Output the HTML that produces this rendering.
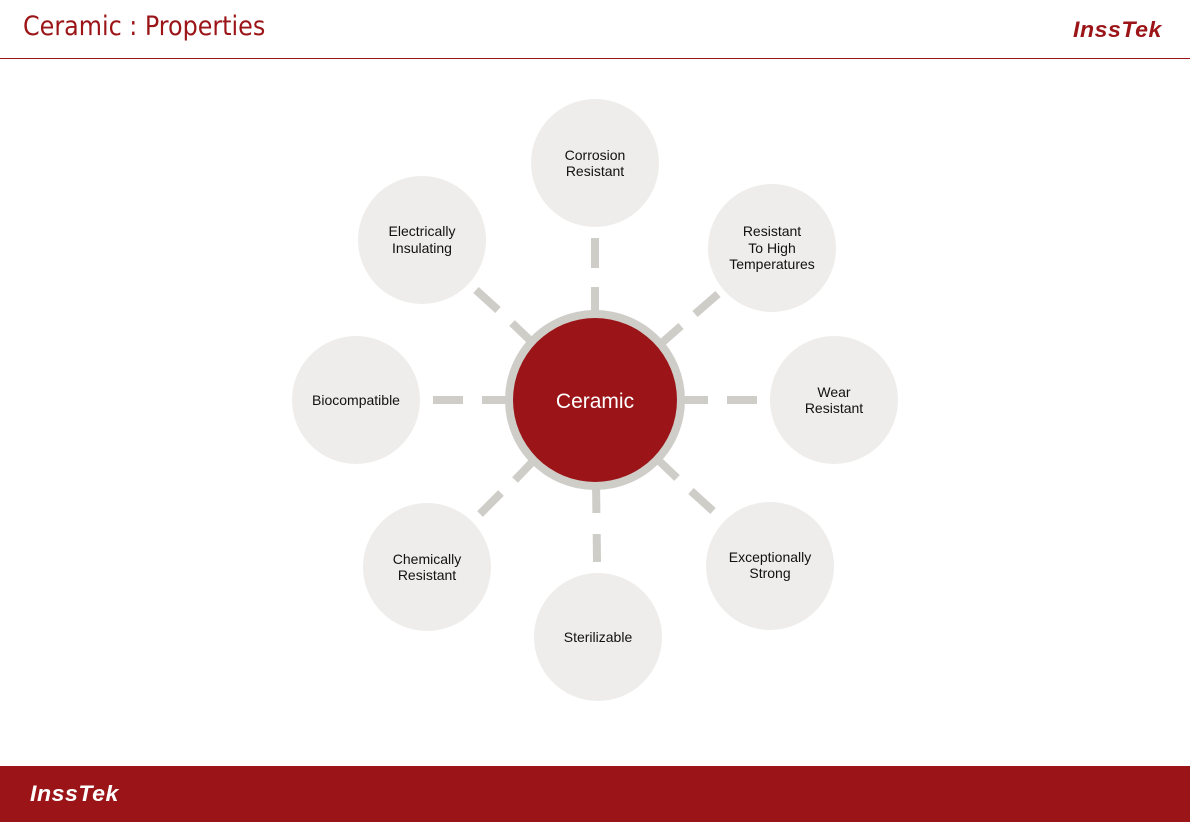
<!DOCTYPE html>
<html><head><meta charset="utf-8"><style>
html,body{margin:0;padding:0;background:#fff;}
body{width:1190px;height:822px;position:relative;overflow:hidden;font-family:"Liberation Sans","DejaVu Sans",sans-serif;}
.title{position:absolute;left:23px;top:11px;font-size:26.5px;color:#9b1518;font-family:"DejaVu Sans Condensed","DejaVu Sans",sans-serif;}
.logo{position:absolute;font-weight:bold;font-style:italic;font-size:22px;letter-spacing:0.5px;font-family:"Liberation Sans",sans-serif;transform:scaleX(1.05);transform-origin:left;}
.hr{position:absolute;left:0;top:58px;width:1190px;height:1px;background:#9b1518;}
.foot{position:absolute;left:0;top:766px;width:1190px;height:56px;background:#9b1518;}
</style></head><body>
<div class="title">Ceramic : Properties</div>
<div class="logo" style="left:1073px;top:17px;color:#9b1518;">InssTek</div>
<div class="hr"></div>
<svg width="1190" height="822" style="position:absolute;left:0;top:0" font-family="Liberation Sans, DejaVu Sans, sans-serif">
<g stroke="#cfcdc8" stroke-width="8">
<line x1="595" y1="320" x2="595" y2="287"/><line x1="595" y1="268" x2="595" y2="238"/>
<line x1="656" y1="348" x2="681" y2="326"/><line x1="695" y1="314" x2="718" y2="294"/>
<line x1="675" y1="400" x2="708" y2="400"/><line x1="727" y1="400" x2="757" y2="400"/>
<line x1="653" y1="455" x2="677" y2="478"/><line x1="691" y1="491" x2="713" y2="511"/>
<line x1="596" y1="480" x2="596.4" y2="513"/><line x1="596.7" y1="534" x2="597" y2="562"/>
<line x1="538" y1="456" x2="515" y2="480"/><line x1="501" y1="493" x2="480" y2="514"/>
<line x1="515" y1="400" x2="482" y2="400"/><line x1="463" y1="400" x2="433" y2="400"/>
<line x1="536" y1="346" x2="512" y2="323"/><line x1="498" y1="310" x2="476" y2="290"/>
</g>
<circle cx="595" cy="400" r="90" fill="#cfcdc8"/>
<circle cx="595" cy="400" r="82" fill="#9b1518"/>
<text x="595" y="408" font-size="21" fill="#fff" text-anchor="middle">Ceramic</text>
<g fill="#eeedeb">
<circle cx="595" cy="163" r="64"/><circle cx="772" cy="248" r="64"/><circle cx="834" cy="400" r="64"/>
<circle cx="770" cy="566" r="64"/><circle cx="598" cy="637" r="64"/><circle cx="427" cy="567" r="64"/>
<circle cx="356" cy="400" r="64"/><circle cx="422" cy="240" r="64"/>
</g>
<g font-size="14" fill="#111" text-anchor="middle">
<text x="595" y="160">Corrosion</text><text x="595" y="176">Resistant</text>
<text x="772" y="236">Resistant</text><text x="772" y="253">To High</text><text x="772" y="269">Temperatures</text>
<text x="834" y="397">Wear</text><text x="834" y="413">Resistant</text>
<text x="770" y="562">Exceptionally</text><text x="770" y="578">Strong</text>
<text x="598" y="642">Sterilizable</text>
<text x="427" y="564">Chemically</text><text x="427" y="580">Resistant</text>
<text x="356" y="405">Biocompatible</text>
<text x="422" y="236">Electrically</text><text x="422" y="253">Insulating</text>
</g>
</svg>
<div class="foot"></div>
<div class="logo" style="left:30px;top:781px;color:#fff;">InssTek</div>
</body></html>
